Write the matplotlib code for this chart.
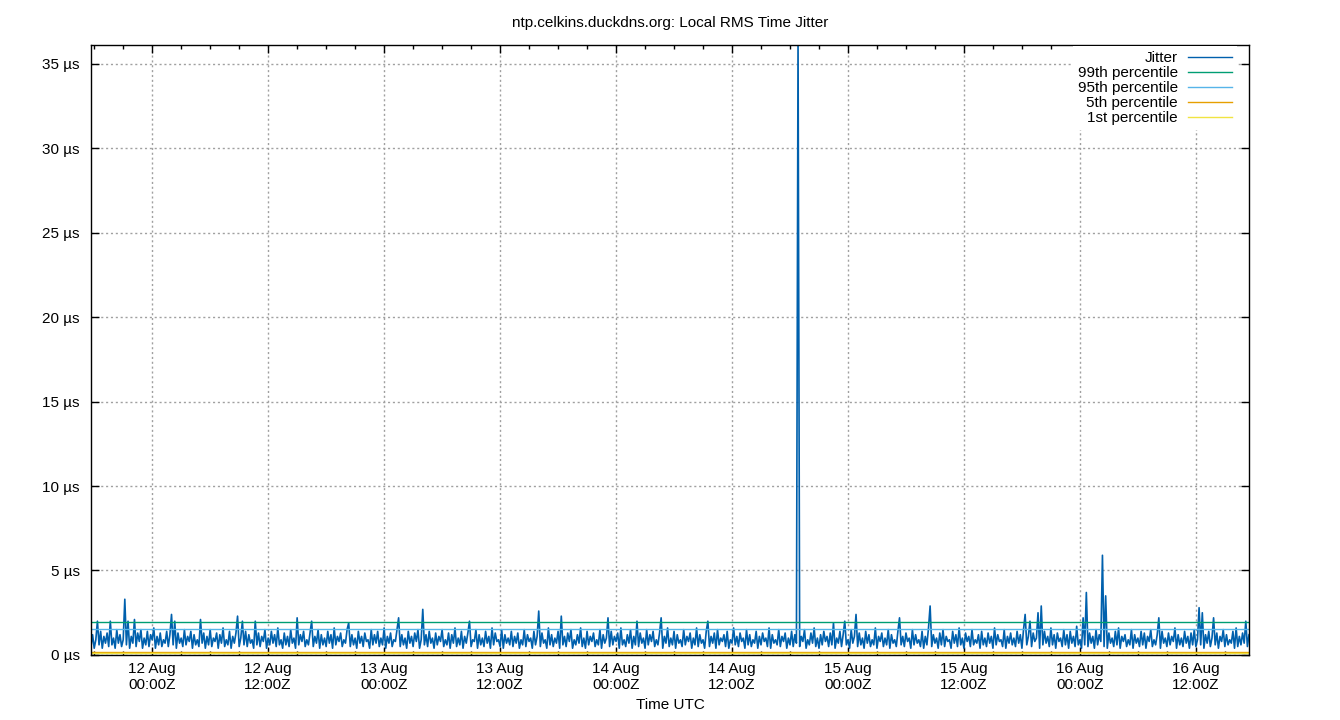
import matplotlib
matplotlib.use('Agg')
import matplotlib.pyplot as plt
import matplotlib.dates as mdates
import pandas as pd

plt.rcParams['font.family'] = ['Liberation Sans', 'DejaVu Sans']
plt.rcParams['font.size'] = 11

# data: RMS jitter in tenths of a microsecond, one sample every 10 min
start = '2023-08-11 17:41'
jitter_tenths = [
    5, 12, 4, 9, 20, 6, 14, 4, 11, 7, 13, 5, 20, 6, 10, 4, 15, 7, 12, 5, 9, 33, 6, 20,
    4, 11, 7, 21, 5, 13, 8, 15, 4, 10, 6, 14, 5, 12, 9, 16, 4, 11, 6, 13, 5, 9, 7, 14,
    5, 12, 24, 6, 20, 4, 13, 7, 10, 5, 15, 6, 11, 8, 14, 4, 12, 6, 9, 5, 21, 7, 13, 4,
    11, 6, 15, 5, 10, 8, 13, 4, 12, 7, 16, 5, 9, 6, 14, 4, 11, 7, 13, 23, 5, 10, 20, 6,
    14, 5, 12, 7, 9, 4, 20, 6, 13, 5, 11, 8, 15, 4, 10, 6, 14, 7, 12, 5, 16, 6, 9, 4,
    13, 6, 11, 5, 15, 7, 10, 4, 22, 6, 12, 8, 14, 5, 9, 6, 13, 20, 5, 11, 7, 15, 4, 12,
    6, 10, 5, 14, 7, 12, 4, 16, 6, 11, 8, 13, 5, 9, 7, 15, 19, 5, 12, 6, 10, 4, 14, 7,
    11, 5, 13, 8, 9, 4, 15, 6, 12, 7, 14, 5, 10, 6, 16, 4, 11, 7, 13, 5, 9, 8, 15, 22,
    5, 12, 6, 10, 4, 14, 7, 11, 5, 13, 8, 15, 4, 9, 27, 6, 12, 5, 14, 7, 10, 4, 13, 6,
    11, 8, 15, 5, 9, 6, 13, 4, 12, 7, 16, 5, 10, 6, 14, 4, 11, 7, 13, 20, 5, 9, 8, 15,
    4, 12, 6, 10, 5, 14, 7, 11, 4, 16, 6, 13, 8, 9, 5, 15, 4, 12, 7, 10, 6, 14, 5, 11,
    7, 13, 4, 9, 6, 15, 5, 12, 8, 10, 4, 14, 6, 11, 26, 5, 13, 7, 9, 4, 16, 6, 12, 5,
    10, 7, 14, 4, 23, 6, 11, 5, 13, 8, 15, 4, 9, 6, 12, 7, 16, 5, 10, 4, 14, 6, 11, 8,
    13, 5, 9, 6, 15, 4, 12, 7, 10, 22, 5, 14, 6, 11, 8, 13, 4, 16, 6, 9, 5, 12, 7, 15,
    4, 11, 6, 20, 5, 13, 7, 10, 4, 15, 6, 12, 8, 14, 5, 9, 6, 13, 22, 4, 11, 7, 16, 5,
    10, 6, 14, 4, 12, 7, 9, 5, 15, 6, 11, 8, 13, 4, 10, 6, 16, 5, 12, 7, 9, 4, 14, 20,
    5, 11, 7, 13, 4, 15, 6, 10, 8, 12, 5, 14, 4, 9, 7, 16, 6, 11, 5, 13, 8, 10, 4, 15,
    6, 12, 5, 9, 7, 14, 4, 11, 6, 13, 8, 10, 5, 16, 4, 12, 7, 9, 6, 15, 5, 11, 8, 13,
    4, 10, 6, 14, 5, 12, 7, 365, 5, 11, 8, 15, 4, 9, 6, 13, 7, 16, 5, 10, 4, 12, 6, 14,
    8, 11, 5, 13, 6, 19, 4, 10, 7, 14, 5, 12, 20, 6, 9, 4, 15, 7, 11, 24, 5, 13, 6, 10,
    4, 14, 7, 12, 5, 9, 6, 16, 4, 11, 8, 13, 5, 10, 6, 15, 4, 12, 7, 9, 5, 14, 22, 6,
    11, 5, 13, 8, 10, 4, 15, 6, 12, 7, 9, 5, 14, 4, 11, 6, 16, 29, 5, 12, 7, 10, 4, 13,
    6, 15, 5, 11, 8, 9, 4, 14, 7, 12, 5, 16, 6, 10, 4, 13, 8, 11, 5, 15, 6, 9, 7, 12,
    4, 14, 6, 10, 5, 13, 7, 11, 4, 16, 6, 12, 8, 9, 5, 15, 4, 11, 7, 13, 6, 10, 5, 14,
    7, 12, 4, 15, 24, 6, 11, 20, 5, 13, 8, 10, 25, 4, 29, 6, 14, 7, 11, 5, 16, 6, 12, 4,
    13, 8, 10, 5, 15, 6, 12, 4, 14, 7, 11, 5, 17, 6, 9, 4, 22, 6, 37, 5, 13, 7, 11, 4,
    15, 6, 12, 8, 59, 5, 35, 4, 13, 7, 10, 5, 14, 6, 16, 4, 11, 8, 12, 5, 9, 6, 15, 4,
    12, 7, 10, 5, 14, 6, 13, 4, 11, 8, 15, 5, 9, 6, 12, 22, 4, 14, 7, 10, 5, 13, 6, 11,
    8, 16, 4, 12, 6, 10, 5, 14, 7, 11, 4, 13, 6, 15, 5, 9, 28, 6, 25, 4, 12, 7, 14, 5,
    10, 22, 6, 13, 4, 11, 8, 15, 5, 12, 6, 9, 7, 14, 4, 16, 5, 11, 6, 13, 7, 20, 5, 12,
]
jitter = [v / 10 for v in jitter_tenths]
times = pd.date_range(start, periods=len(jitter), freq='10min')

# percentiles (us)
p99 = 1.95
p95 = 1.53
p5 = 0.20
p1 = 0.13

fig = plt.figure(figsize=(13.4, 7.2), dpi=100)
ax = fig.add_axes([0.0679, 0.0903, 0.8642, 0.8472])

ax.plot(times, jitter, color='#0060ad', lw=1.2, label='Jitter')
ax.axhline(p99, color='#009e73', lw=1, label='99th percentile')
ax.axhline(p95, color='#56b4e9', lw=1, label='95th percentile')
ax.axhline(p5, color='#e69f00', lw=1, label='5th percentile')
ax.axhline(p1, color='#f0e442', lw=1, label='1st percentile')

ax.set_xlim(times[0], times[-1])
ax.set_ylim(0, 36.1)
ax.set_yticks(range(0, 36, 5))
ax.set_yticklabels(['%d µs' % v for v in range(0, 36, 5)])

ax.xaxis.set_major_locator(mdates.HourLocator(byhour=[0, 12]))
ax.xaxis.set_minor_locator(mdates.HourLocator(byhour=range(0, 24, 3)))
ax.xaxis.set_major_formatter(mdates.DateFormatter('%d %b\n%H:%MZ'))

ax.tick_params(which='both', direction='in', top=True, right=True)
ax.tick_params(axis='x', pad=5)
ax.tick_params(axis='y', pad=8)
ax.tick_params(which='major', length=6, width=1)
ax.tick_params(which='minor', length=3, width=1)
for s in ax.spines.values():
    s.set_linewidth(1)

ax.grid(True, which='major', color='#a0a0a0', linestyle=(0, (1.5, 2)), lw=1)

ax.set_title('ntp.celkins.duckdns.org: Local RMS Time Jitter', fontsize=11, pad=13)
ax.set_xlabel('Time UTC', labelpad=4)

leg = ax.legend(loc='upper right', bbox_to_anchor=(1 - 12.5 / 1158, 1 - 1.5 / 610),
                borderaxespad=0, markerfirst=False, frameon=True, fancybox=False,
                edgecolor='none', framealpha=1, handlelength=2.9, handletextpad=0.65,
                labelspacing=0.07, borderpad=0.3)
leg.get_lines()[0].set_linewidth(1)

fig.savefig('out.png', dpi=100)
